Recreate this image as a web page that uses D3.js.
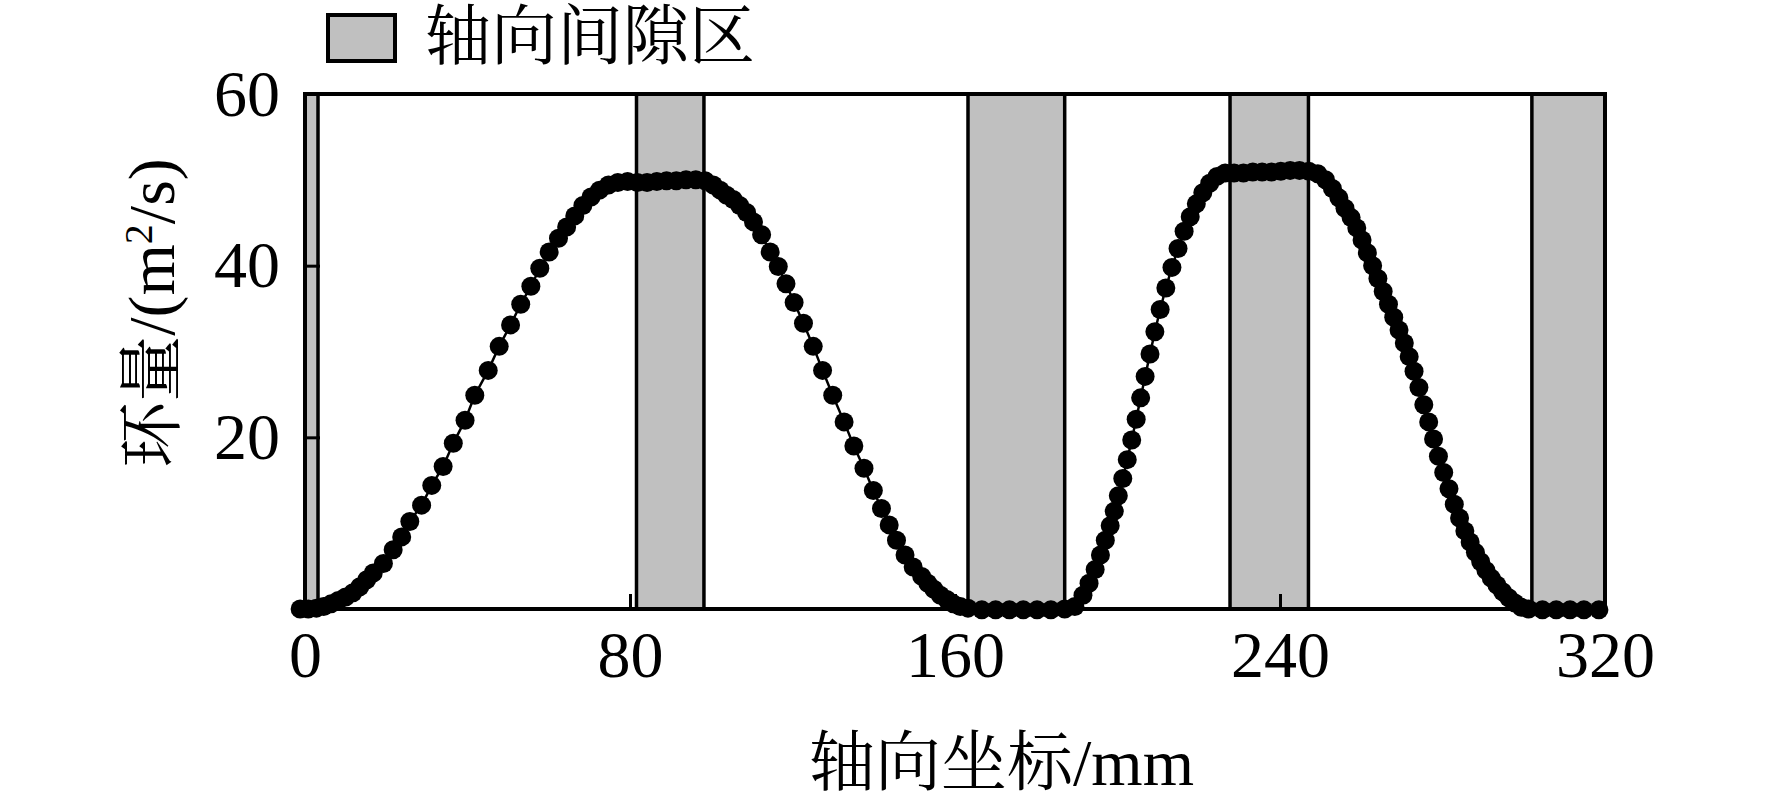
<!DOCTYPE html>
<html>
<head>
<meta charset="utf-8">
<script src="https://cdn.jsdelivr.net/npm/d3@7"></script>
<style>
	body { margin: 0; background: #fff; }
	svg { display: block; }
	text { font-family: "Liberation Serif", "Noto Serif CJK SC", "Noto Sans CJK SC", serif; fill: #000; }
</style>
</head>
<body>
<svg id="chart"></svg>
<script>
// axial coordinate of each sample (mm)
const axialPos = [
	-1.2, 0.8, 2.8, 4.6, 6.4, 8.2, 10.0, 11.8, 13.5, 15.2, 16.8, 19.3, 21.7, 23.8, 25.8, 28.7, 31.2, 34.0, 36.5,
	39.4, 41.8, 45.1, 47.8, 50.6, 53.1, 55.6, 57.8, 60.1, 62.4, 64.4, 66.4, 68.4, 70.4, 72.5, 74.7,
	77.0, 79.4, 81.8, 84.2, 86.6, 89.0, 91.4, 93.8, 96.2, 98.5, 100.5, 102.2, 103.8, 105.4, 107.0, 108.7,
	110.4, 112.4, 114.5, 116.5, 118.4, 120.4, 122.7, 125.1, 127.4, 129.9, 132.7, 135.1, 137.6, 139.9,
	141.9, 143.8, 145.6, 147.7, 149.7, 151.8, 153.3, 154.8, 156.4, 158.0, 159.6, 161.3, 163.2, 166.6,
	170.0, 173.4, 176.8, 180.2, 183.6, 187.0,
	189.5, 191.5, 193.0, 194.5, 195.8, 197.0, 198.2, 199.2, 200.2, 201.3, 202.4, 203.5, 204.6, 205.7,
	206.8, 208.0, 209.2, 210.5, 211.9, 213.4, 214.9, 216.4, 217.9, 219.4, 221.0, 222.7, 224.5, 226.5,
	228.7, 231.0, 233.3, 235.6, 237.9, 240.2, 242.5, 244.8, 247.1, 249.3, 251.2, 252.9, 254.5, 256.0,
	257.5, 258.9, 260.2, 261.5, 262.8, 264.1, 265.4, 266.7, 268.0, 269.3, 270.6, 271.8, 273.0, 274.2,
	275.4, 276.6, 277.8, 279.0, 280.3, 281.6, 282.9, 284.2, 285.5, 286.8, 288.1, 289.4, 290.7, 292.0,
	293.4, 294.8, 296.3, 297.8, 299.4, 301.2, 304.6, 308.0, 311.4, 314.8, 318.5
];

// circulation at each sample (m^2/s)
const circulation = [
	0.0, 0.0, 0.1, 0.3, 0.6, 1.0, 1.4, 1.9, 2.6, 3.4, 4.2, 5.3, 6.9, 8.4, 10.2, 12.1, 14.4, 16.6, 19.3,
	22.0, 24.9, 27.8, 30.6, 33.1, 35.5, 37.6, 39.7, 41.6, 43.2, 44.5, 45.8, 47.0, 48.0, 48.8, 49.4,
	49.7, 49.8, 49.7, 49.7, 49.8, 49.9, 49.9, 50.0, 50.0, 49.9, 49.4, 48.8, 48.2, 47.7, 47.0, 46.2,
	45.1, 43.6, 41.6, 39.9, 37.9, 35.7, 33.3, 30.6, 27.8, 24.9, 21.8, 19.0, 16.4, 13.8,
	11.7, 9.8, 8.0, 6.3, 4.9, 3.8, 3.0, 2.3, 1.6, 1.1, 0.6, 0.3, 0.1, -0.1,
	-0.1, -0.1, -0.1, -0.1, -0.1, 0.0,
	0.3, 1.6, 3.0, 4.6, 6.3, 8.0, 9.7, 11.4, 13.2, 15.2, 17.4, 19.7, 22.1, 24.6,
	27.1, 29.7, 32.3, 34.9, 37.4, 39.8, 42.0, 44.0, 45.7, 47.2, 48.5, 49.6, 50.4, 50.8,
	50.8, 50.8, 50.9, 50.9, 50.9, 51.0, 51.1, 51.1, 51.0, 50.7, 50.0, 49.0, 47.9, 46.7,
	45.6, 44.4, 43.0, 41.5, 40.0, 38.5, 37.0, 35.5, 34.0, 32.5, 31.0, 29.4, 27.7, 25.8,
	23.8, 21.8, 19.8, 17.8, 15.9, 14.0, 12.2, 10.6, 9.1, 7.8, 6.6, 5.5, 4.5, 3.6,
	2.8, 2.0, 1.3, 0.7, 0.2, 0.0, -0.1, -0.1, -0.1, -0.1, -0.1
];

// axial gap regions (mm)
const gapStart = [0, 81.6, 163.2, 227.7, 302.0];
const gapEnd = [3.2, 98.2, 187.0, 247.0, 320];

const xTickValues = [0, 80, 160, 240, 320];
const yTickValues = [20, 40, 60];
const legendLabel = '轴向间隙区';

class CirculationChart {
	constructor(_config) {
		this.config = {
			parentElement: _config.parentElement,
			containerWidth: _config.containerWidth || 1772,
			containerHeight: _config.containerHeight || 807,
			margin: _config.margin || { top: 94, right: 167, bottom: 198, left: 305 },
			dotRadius: _config.dotRadius || 9.5
		}
		this.initVis();
	}

	initVis() {
		let vis = this;

		vis.width = vis.config.containerWidth - vis.config.margin.left - vis.config.margin.right;
		vis.height = vis.config.containerHeight - vis.config.margin.top - vis.config.margin.bottom;

		vis.xScale = d3.scaleLinear()
			.domain([0, 320])
			.range([0, vis.width]);

		vis.yScale = d3.scaleLinear()
			.domain([0, 60])
			.range([vis.height, 0]);

		// ticks point into the plot
		vis.xAxis = d3.axisBottom(vis.xScale)
			.tickValues(xTickValues)
			.tickSizeInner(-15)
			.tickSizeOuter(0)
			.tickPadding(21);

		vis.yAxis = d3.axisLeft(vis.yScale)
			.tickValues(yTickValues)
			.tickSizeInner(-15)
			.tickSizeOuter(0)
			.tickPadding(25);

		vis.svg = d3.select(vis.config.parentElement)
			.attr('width', vis.config.containerWidth)
			.attr('height', vis.config.containerHeight);

		vis.chart = vis.svg.append('g')
			.attr('transform', `translate(${vis.config.margin.left},${vis.config.margin.top})`);

		// legend
		vis.svg.append('rect')
			.attr('x', 328)
			.attr('y', 15)
			.attr('width', 67)
			.attr('height', 46)
			.attr('fill', '#c0c0c0')
			.attr('stroke', '#000')
			.attr('stroke-width', 4);

		vis.svg.append('text')
			.attr('x', 425)
			.attr('y', 59)
			.style('font-size', '66px')
			.text(legendLabel);

		// axis titles
		vis.svg.append('text')
			.attr('x', 809)
			.attr('y', 785)
			.style('font-size', '66px')
			.text('轴向坐标/mm');

		const yTitle = vis.svg.append('text')
			.attr('transform', 'translate(174,313) rotate(-90)')
			.style('text-anchor', 'middle')
			.style('font-size', '66px');
		yTitle.append('tspan').text('环量/(m');
		yTitle.append('tspan').attr('baseline-shift', 'super').style('font-size', '40px').text('2');
		yTitle.append('tspan').text('/s)');
	}

	renderVis() {
		let vis = this;

		vis.chart.append('rect')
			.attr('width', vis.width)
			.attr('height', vis.height)
			.attr('fill', '#fff');

		// gap bands
		vis.chart.selectAll('.gap')
			.data(gapStart.map((s, i) => ({ start: s, end: gapEnd[i] })))
			.join('rect')
			.attr('class', 'gap')
			.attr('x', d => vis.xScale(d.start))
			.attr('y', 0)
			.attr('width', d => vis.xScale(d.end) - vis.xScale(d.start))
			.attr('height', vis.height)
			.attr('fill', '#c0c0c0')
			.attr('stroke', '#000')
			.attr('stroke-width', 3.5);

		const xAxisGroup = vis.chart.append('g')
			.attr('transform', `translate(0,${vis.height})`)
			.call(vis.xAxis);
		const yAxisGroup = vis.chart.append('g')
			.call(vis.yAxis);

		[xAxisGroup, yAxisGroup].forEach(g => {
			g.attr('font-family', null).attr('font-size', null);
			g.select('.domain').remove();
			g.selectAll('line').attr('stroke', '#000').attr('stroke-width', 3);
			g.selectAll('text').style('font-size', '66px');
		});

		// plot frame
		vis.chart.append('rect')
			.attr('width', vis.width)
			.attr('height', vis.height)
			.attr('fill', 'none')
			.attr('stroke', '#000')
			.attr('stroke-width', 4);

		const points = axialPos.map((x, i) => ({ x: x, y: circulation[i] }));

		const line = d3.line()
			.x(d => vis.xScale(d.x))
			.y(d => vis.yScale(d.y));

		vis.chart.append('path')
			.datum(points)
			.attr('d', line)
			.attr('fill', 'none')
			.attr('stroke', '#000')
			.attr('stroke-width', 2.5);

		vis.chart.selectAll('.pt')
			.data(points)
			.join('circle')
			.attr('class', 'pt')
			.attr('cx', d => vis.xScale(d.x))
			.attr('cy', d => vis.yScale(d.y))
			.attr('r', vis.config.dotRadius)
			.attr('fill', '#000');
	}
}

const chart = new CirculationChart({ parentElement: '#chart' });
chart.renderVis();
</script>
</body>
</html>
